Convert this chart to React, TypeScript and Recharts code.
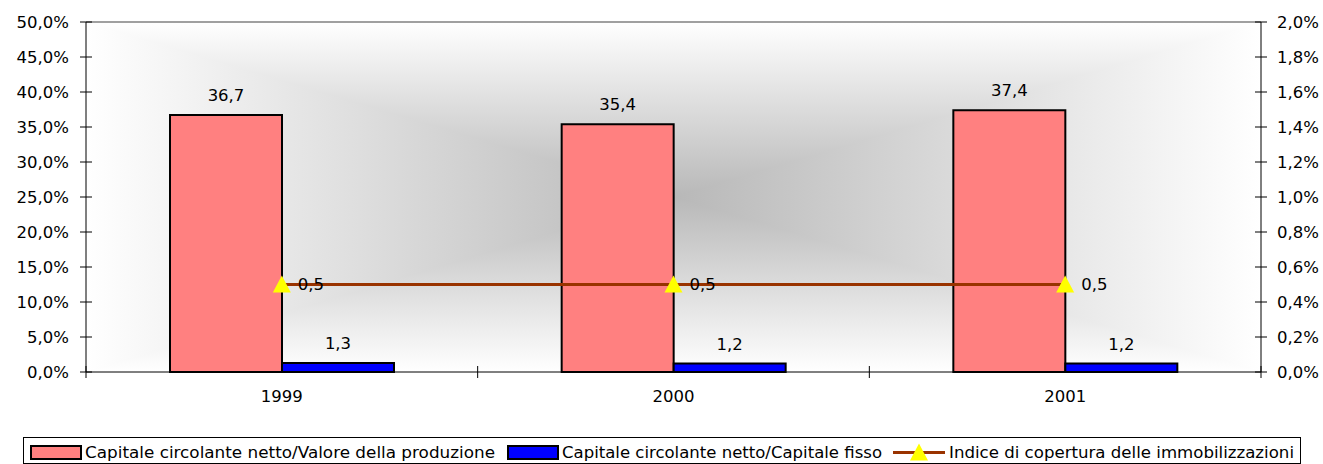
import React from 'react';
import {
  Bar,
  ComposedChart,
  LabelList,
  Line,
  ReferenceLine,
  XAxis,
  YAxis,
} from 'recharts';

const years = ['1999', '2000', '2001'];
const valoreProduzione = [36.7, 35.4, 37.4];
const capitaleFisso = [1.3, 1.2, 1.2];
const indiceCopertura = [0.5, 0.5, 0.5];
const leftTicks = [0, 5, 10, 15, 20, 25, 30, 35, 40, 45, 50];
const rightTicks = [0, 0.2, 0.4, 0.6, 0.8, 1.0, 1.2, 1.4, 1.6, 1.8, 2.0];
const seriesNames = [
  'Capitale circolante netto/Valore della produzione',
  'Capitale circolante netto/Capitale fisso',
  'Indice di copertura delle immobilizzazioni',
];

const data = years.map((year, i) => ({
  year,
  produzione: valoreProduzione[i],
  fisso: capitaleFisso[i],
  copertura: indiceCopertura[i],
}));

const FONT = '"DejaVu Sans", Verdana, sans-serif';
const FS = 16.5;
const PINK = '#FF8080';
const BLUE = '#0000FF';
const BROWN = '#993300';
const YELLOW = '#FFFF00';

const fmt = (v: any) => Number(v).toFixed(1).replace('.', ',');

const LeftTick = ({ x, y, payload }: any) => {
  const ax = x + 17; // axis line x
  return (
    <g>
      <line x1={ax - 6} x2={ax + 6} y1={y} y2={y} stroke="#000" />
      <text x={x} y={y} dy={6} textAnchor="end" fontSize={FS} fontFamily={FONT} fill="#000">
        {fmt(payload.value)}%
      </text>
    </g>
  );
};

const RightTick = ({ x, y, payload }: any) => {
  const ax = x - 16;
  return (
    <g>
      <line x1={ax - 6} x2={ax + 6} y1={y} y2={y} stroke="#000" />
      <text x={x} y={y} dy={6} textAnchor="start" fontSize={FS} fontFamily={FONT} fill="#000">
        {fmt(payload.value)}%
      </text>
    </g>
  );
};

// ticks sit on the category boundaries, labels in the middle
const YearTick = ({ x, y, payload, index }: any) => {
  const half = payload?.offset || 1175 / 6;
  const ay = y - 8;
  return (
    <g>
      <line x1={x - half} x2={x - half} y1={ay - 6} y2={ay + 6} stroke="#000" />
      {index === years.length - 1 && (
        <line x1={x + half} x2={x + half} y1={ay - 6} y2={ay + 6} stroke="#000" />
      )}
      <text x={x} y={y} dy={22} textAnchor="middle" fontSize={FS} fontFamily={FONT} fill="#000">
        {payload.value}
      </text>
    </g>
  );
};

const Triangle = ({ cx, cy }: any) => {
  if (cx == null || cy == null) return null;
  return (
    <polygon
      points={`${cx},${cy - 9} ${cx - 9},${cy + 8} ${cx + 9},${cy + 8}`}
      fill={YELLOW}
    />
  );
};

const ChartLegend = () => (
  <svg width={1323} height={30} style={{ position: 'absolute', left: 0, top: 434 }}>
    <rect x={23.5} y={3.5} width={1277} height={26} fill="#fff" stroke="#000" />
    <rect x={31} y={12} width={50} height={13} fill={PINK} stroke="#000" strokeWidth={2} />
    <text x={85} y={23.5} fontSize={FS} fontFamily={FONT} fill="#000" textLength={410} lengthAdjust="spacingAndGlyphs">
      {seriesNames[0]}
    </text>
    <rect x={508} y={12} width={50} height={13} fill={BLUE} stroke="#000" strokeWidth={2} />
    <text x={562} y={23.5} fontSize={FS} fontFamily={FONT} fill="#000" textLength={320} lengthAdjust="spacingAndGlyphs">
      {seriesNames[1]}
    </text>
    <line x1={893} x2={945} y1={18.5} y2={18.5} stroke={BROWN} strokeWidth={3} />
    <Triangle cx={919} cy={18.5} />
    <text x={949} y={23.5} fontSize={FS} fontFamily={FONT} fill="#000" textLength={345} lengthAdjust="spacingAndGlyphs">
      {seriesNames[2]}
    </text>
  </svg>
);

export default function App() {
  return (
    <div style={{ position: 'absolute', left: 0, top: 0, width: 1323, height: 464, background: '#fff' }}>
      {/* rectangular "from centre" fill of the plot area */}
      <div
        style={{
          position: 'absolute',
          left: 86,
          top: 22,
          width: 1175,
          height: 350,
          background:
            'linear-gradient(to right, #fff, #b8b8b8 50%, #fff), linear-gradient(to bottom, #fff, #b8b8b8 50%, #fff)',
          backgroundBlendMode: 'lighten',
        }}
      />
      <div style={{ position: 'absolute', left: 0, top: 0 }}>
        <ComposedChart
          width={1323}
          height={464}
          data={data}
          margin={{ top: 22, right: 0, left: 0, bottom: 62 }}
          barSize={112}
          barGap={0}
        >
          <XAxis
            dataKey="year"
            height={30}
            axisLine={{ stroke: '#000' }}
            tickLine={false}
            tickSize={6}
            tickMargin={2}
            tick={<YearTick />}
          />
          <YAxis
            yAxisId="left"
            width={86}
            domain={[0, 50]}
            ticks={leftTicks}
            interval={0}
            axisLine={{ stroke: '#000' }}
            tickLine={false}
            tickSize={6}
            tickMargin={11}
            tick={<LeftTick />}
          />
          <YAxis
            yAxisId="right"
            orientation="right"
            width={62}
            domain={[0, 2]}
            ticks={rightTicks}
            interval={0}
            axisLine={{ stroke: '#000' }}
            tickLine={false}
            tickSize={6}
            tickMargin={10}
            tick={<RightTick />}
          />
          <ReferenceLine yAxisId="left" y={50} stroke="#808080" strokeWidth={1.5} />
          <Bar
            yAxisId="left"
            dataKey="produzione"
            name={seriesNames[0]}
            fill={PINK}
            stroke="#000"
            strokeWidth={2}
            isAnimationActive={false}
          >
            <LabelList dataKey="produzione" position="top" offset={14} formatter={fmt} fontSize={FS} fontFamily={FONT} fill="#000" />
          </Bar>
          <Bar
            yAxisId="left"
            dataKey="fisso"
            name={seriesNames[1]}
            fill={BLUE}
            stroke="#000"
            strokeWidth={2}
            isAnimationActive={false}
          >
            <LabelList dataKey="fisso" position="top" offset={14} formatter={fmt} fontSize={FS} fontFamily={FONT} fill="#000" />
          </Bar>
          <Line
            yAxisId="right"
            dataKey="copertura"
            name={seriesNames[2]}
            stroke={BROWN}
            strokeWidth={3}
            dot={<Triangle />}
            activeDot={false}
            isAnimationActive={false}
          >
            <LabelList dataKey="copertura" position="right" offset={16} formatter={fmt} fontSize={FS} fontFamily={FONT} fill="#000" />
          </Line>
        </ComposedChart>
      </div>
      <ChartLegend />
    </div>
  );
}
